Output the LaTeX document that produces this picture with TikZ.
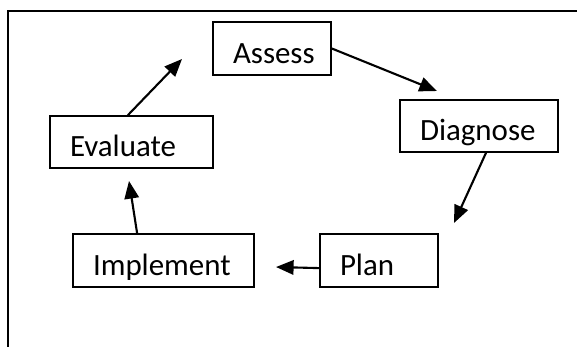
\documentclass[tikz,border=0pt]{standalone}
\usepackage{fontspec}
\setmainfont{Carlito}
\usetikzlibrary{arrows.meta}

\begin{document}
\begin{tikzpicture}[x=1cm,y=1cm,>={Triangle[length=0.44cm,width=0.36cm]},
  font=\fontsize{22}{26}\selectfont,
  stage/.style={draw,line width=1.2pt,inner xsep=0.5cm,inner ysep=0pt,align=left,text height=21pt,text depth=0pt},
  link/.style={->,line width=1.5pt}]
  \useasboundingbox (0,0) rectangle (14.425,-8.65);
  \clip (0,0) rectangle (14.425,-8.65);
  \draw[line width=1.2pt] (0.2,-8.8) -- (0.2,-0.275) -- (14.6,-0.275);
  \node[stage,text width=1.95cm,minimum height=1.325cm] (assess) at (6.8,-1.2125) {Assess};
  \node[stage,text width=2.95cm,minimum height=1.3cm] (diag) at (11.975,-3.15) {Diagnose};
  \node[stage,text width=1.95cm,minimum height=1.325cm] (plan) at (9.475,-6.5125) {Plan};
  \node[stage,text width=3.525cm,minimum height=1.325cm] (impl) at (4.0875,-6.5125) {Implement};
  \node[stage,text width=3.075cm,minimum height=1.3cm] (eval) at (3.2875,-3.55) {Evaluate};
  \coordinate (tipdiag) at (10.925,-2.275);
  \coordinate (tipplan) at (11.35,-5.575);
  \coordinate (tipimpl) at (6.9,-6.675);
  \coordinate (tipeval) at (3.225,-4.525);
  \coordinate (tipassess) at (4.55,-1.475);
  \draw[link] (assess.east) -- (tipdiag);
  \draw[link] ([xshift=0.175cm]diag.south) -- (tipplan);
  \draw[link] ([yshift=-0.19cm]plan.west) -- (tipimpl);
  \draw[link] ([xshift=-0.66cm]impl.north) -- (tipeval);
  \draw[link] ([xshift=-0.09cm]eval.north) -- (tipassess);
\end{tikzpicture}
\end{document}
